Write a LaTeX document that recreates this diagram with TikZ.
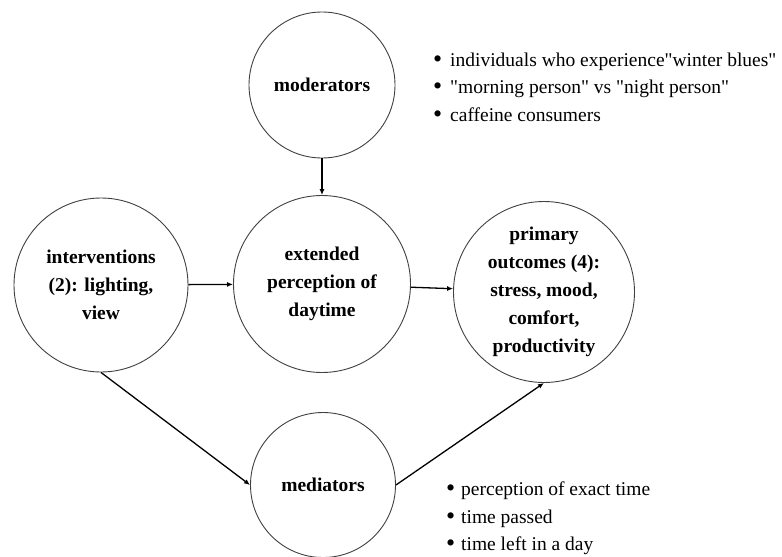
\documentclass[tikz,border=0pt]{standalone}
\usepackage{fontspec}
\setmainfont{Liberation Serif}
% straight quotation marks kept as typed
\newfontfamily\notefont{Liberation Serif}[Ligatures=TeXOff]
\usetikzlibrary{arrows.meta}
% filled round list marker followed by a fixed gap
\newcommand\listdot[1]{\makebox[#1][l]{\raisebox{-1.2pt}{\fontsize{26}{26}\selectfont\textbullet}}}
\begin{document}
\begin{tikzpicture}[x=1pt,y=-1pt,
  factor/.style={circle,draw=black!75,line width=0.9pt,inner sep=0pt,align=center,
    font=\fontsize{19.5}{28}\selectfont\bfseries},
  link/.style={line width=1.3pt,-{Latex[length=6pt,width=5pt]}},
  notes/.style={align=left,anchor=west,inner sep=0pt,font=\notefont\fontsize{19.5}{27.5}\selectfont}]
\useasboundingbox (0,0) rectangle (782,557);

% factors
\node[factor,minimum size=146pt] (mod) at (322,85) {moderators};
\node[factor,minimum size=174pt] (int) at (101,285) {interventions\\(2): lighting,\\view};
\node[factor,minimum size=177pt] (ext) at (322,284) {extended\\perception of\\daytime};
\node[factor,minimum size=181pt] (out) at (544,292) {primary\\outcomes (4):\\stress, mood,\\comfort,\\productivity};
\node[factor,minimum size=145pt] (med) at (323,485) {mediators};

% paths
\draw[link] (mod) -- (ext);
\draw[link] (int) -- (ext);
\draw[link] (ext) -- (out);
\draw[link] (int.south) -- (med.west);
\draw[link] (med.east) -- (out.south);

% lists
\node[notes] (modlist) at (433,87.5) {\listdot{17pt}individuals who experience"winter blues"\\
  \listdot{17pt}"morning person" vs "night person"\\
  \listdot{17pt}caffeine consumers};
\node[notes] (medlist) at (446,518.5) {\listdot{15pt}perception of exact time\\
  \listdot{15pt}time passed\\
  \listdot{15pt}time left in a day};
\end{tikzpicture}
\end{document}
